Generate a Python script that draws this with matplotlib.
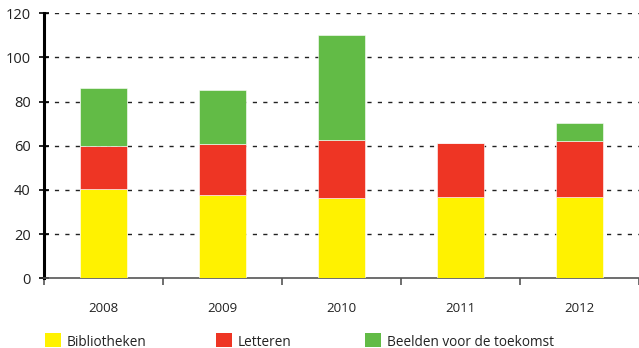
import numpy as np
import matplotlib.pyplot as plt
from matplotlib.patches import Rectangle

plt.rcParams["font.family"] = ["Open Sans", "DejaVu Sans"]

# data
years = ["2008", "2009", "2010", "2011", "2012"]
bibliotheken = [40.4, 37.7, 36.4, 37.0, 37.0]
letteren = [19.7, 23.1, 26.4, 24.4, 25.2]
beelden = [25.9, 24.5, 47.2, 0.0, 8.0]
series_names = ["Bibliotheken", "Letteren", "Beelden voor de toekomst"]
colors = ["#FFF200", "#EE3524", "#62BB46"]

W, H = 639, 348
fig = plt.figure(figsize=(W / 100, H / 100), dpi=100)
ax = fig.add_axes([44 / W, 1 - 278.3 / H, 595 / W, 265 / H])

x = np.arange(len(years))
bottom = np.zeros(len(years))
for vals, c in zip([bibliotheken, letteren, beelden], colors):
    ax.bar(x, vals, width=0.4, bottom=bottom, color=c, zorder=3,
           edgecolor="white", linewidth=0.4)
    bottom += np.array(vals)

ax.set_ylim(0, 120)
ax.set_xlim(-0.5, -0.5 + 595 / 120.5)
ax.set_yticks(range(0, 121, 20))
for yv in range(20, 121, 20):
    ax.axhline(yv, color="#222222", lw=1.0, ls=(0, (3, 4.5)), zorder=1)

# ticks at category boundaries, labels at centres
ax.set_xticks(np.arange(len(years) + 1) - 0.5)
ax.set_xticklabels([])
ax.set_xticks(x, minor=True)
ax.set_xticklabels(years, minor=True)
ax.tick_params(axis="x", which="major", length=5, width=1.2, color="#555555")
ax.tick_params(axis="x", which="minor", length=0, pad=17, labelsize=9.5,
               labelcolor="#222222")
ax.tick_params(axis="y", direction="inout", length=7, width=1.2,
               labelsize=10.5, pad=6, labelcolor="#222222")

for s in ["top", "right"]:
    ax.spines[s].set_visible(False)
ax.spines["left"].set_linewidth(2.2)
ax.spines["left"].set_color("black")
ax.spines["bottom"].set_linewidth(1.2)
ax.spines["bottom"].set_color("#555555")

# legend row below the chart
legend_x = [45, 216, 365]
for lx, name, c in zip(legend_x, series_names, colors):
    fig.patches.append(Rectangle((lx / W, 1 - 347 / H), 16 / W, 14 / H,
                                 transform=fig.transFigure, facecolor=c,
                                 edgecolor="none"))
    fig.text((lx + 22) / W, 1 - 342 / H, name, fontsize=9.8,
             va="center", ha="left", color="#222222")

fig.savefig("out.png", dpi=100)
